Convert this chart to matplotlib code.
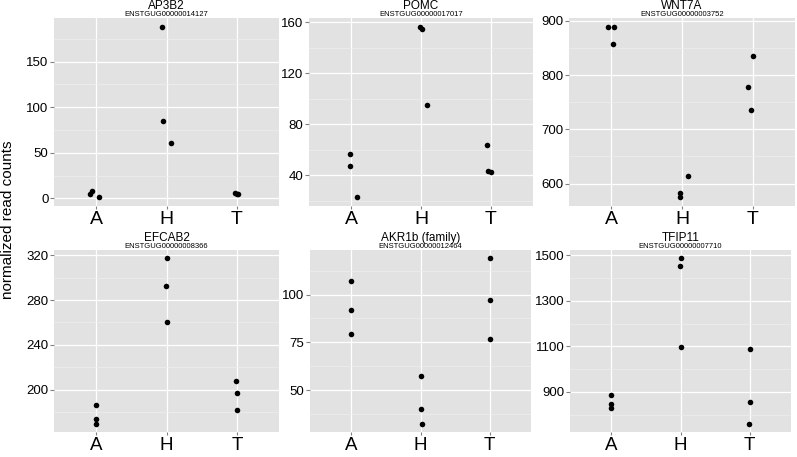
import matplotlib
matplotlib.use("Agg")
import matplotlib.pyplot as plt
from matplotlib.ticker import FixedLocator, AutoMinorLocator

plt.rcParams['font.family'] = ['Liberation Sans', 'DejaVu Sans']

groups = ['A', 'H', 'T']
genes = ['AP3B2', 'POMC', 'WNT7A', 'EFCAB2', 'AKR1b (family)', 'TFIP11']
gene_ids = ['ENSTGUG00000014127', 'ENSTGUG00000017017', 'ENSTGUG00000003752',
            'ENSTGUG00000008366', 'ENSTGUG00000012464', 'ENSTGUG00000007710']

# normalized read counts, three samples per group (A, H, T)
ap3b2 = [[8.5, 4.5, 1.0], [188.4, 84.3, 61.0], [5.8, 5.0, 4.7]]
pomc = [[56.5, 47.4, 22.5], [156.6, 154.5, 94.8], [63.3, 43.2, 42.1]]
wnt7a = [[889.5, 889.5, 857.8], [583.0, 574.4, 613.6], [835.8, 778.7, 735.0]]
efcab2 = [[185.8, 173.7, 169.4], [317.4, 292.2, 260.7], [207.2, 197.1, 181.5]]
akr1b = [[107.0, 91.8, 79.4], [57.4, 40.2, 32.6], [118.9, 96.9, 76.9]]
tfip11 = [[888.5, 846.8, 829.5], [1487.0, 1451.0, 1098.6], [1090.0, 855.0, 760.5]]

# horizontal jitter of each point (fraction of a category step)
ap3b2_jit = [[-0.06, -0.095, 0.04], [-0.07, -0.05, 0.07], [-0.03, 0.0, 0.02]]
pomc_jit = [[-0.01, -0.02, 0.09], [-0.01, 0.01, 0.09], [-0.06, -0.05, 0.0]]
wnt7a_jit = [[-0.05, 0.04, 0.02], [-0.03, -0.03, 0.09], [0.005, -0.07, -0.03]]
efcab2_jit = [[0.0, 0.0, 0.0], [0.01, -0.005, 0.01], [-0.01, 0.0, 0.005]]
akr1b_jit = [[0.0, -0.01, -0.01], [0.0, 0.0, 0.015], [0.005, 0.0, 0.0]]
tfip11_jit = [[-0.01, -0.01, -0.01], [0.005, -0.01, 0.0], [0.0, 0.0, -0.005]]

ap3b2_ticks = [0, 50, 100, 150]
pomc_ticks = [40, 80, 120, 160]
wnt7a_ticks = [600, 700, 800, 900]
efcab2_ticks = [200, 240, 280, 320]
akr1b_ticks = [50, 75, 100]
tfip11_ticks = [900, 1100, 1300, 1500]

values = [ap3b2, pomc, wnt7a, efcab2, akr1b, tfip11]
jitters = [ap3b2_jit, pomc_jit, wnt7a_jit, efcab2_jit, akr1b_jit, tfip11_jit]
yticks = [ap3b2_ticks, pomc_ticks, wnt7a_ticks, efcab2_ticks, akr1b_ticks, tfip11_ticks]

W, H = 797, 457
fig = plt.figure(figsize=(W / 100, H / 100), dpi=100)

# panel rectangles in pixels: left, top, right, bottom
rects = [(54, 18, 279, 206), (309, 18, 533, 206), (569, 18, 795, 206),
         (54, 250, 279, 432), (310, 250, 531, 432), (570, 250, 791, 432)]

for i in range(6):
    l, t, r, b = rects[i]
    ax = fig.add_axes([l / W, 1 - b / H, (r - l) / W, (b - t) / H])
    ax.set_facecolor('#e2e2e2')
    for g in range(3):
        xs = [g + j for j in jitters[i][g]]
        ax.scatter(xs, values[i][g], s=16, color='black', zorder=3, linewidths=0)
    ax.set_xlim(-0.6, 2.6)
    ax.margins(y=0.05)
    ax.set_xticks(range(3))
    ax.set_xticklabels(groups, fontsize=14 if i < 3 else 13.5)
    ax.yaxis.set_major_locator(FixedLocator(yticks[i]))
    ax.yaxis.set_minor_locator(AutoMinorLocator(2))
    ax.tick_params(axis='y', labelsize=9.5, length=3, pad=1, color='#808080')
    ax.tick_params(axis='x', length=2.5, pad=1, color='#808080')
    ax.tick_params(which='minor', length=0)
    ax.grid(which='major', color='white', linewidth=0.9)
    ax.grid(which='minor', color='#eeeeee', linewidth=0.5)
    ax.set_axisbelow(True)
    for s in ax.spines.values():
        s.set_visible(False)
    ax.annotate(genes[i], xy=(0.5, 1), xycoords='axes fraction',
                xytext=(0, 8.6), textcoords='offset points',
                ha='center', va='center', fontsize=8.5)
    ax.annotate(gene_ids[i], xy=(0.5, 1), xycoords='axes fraction',
                xytext=(0, 2.6), textcoords='offset points',
                ha='center', va='center', fontsize=5.5)

fig.text(8.5 / W, 1 - 220 / H, 'normalized read counts', rotation=90,
         ha='center', va='center', fontsize=11)

fig.savefig('out.png', dpi=100)
